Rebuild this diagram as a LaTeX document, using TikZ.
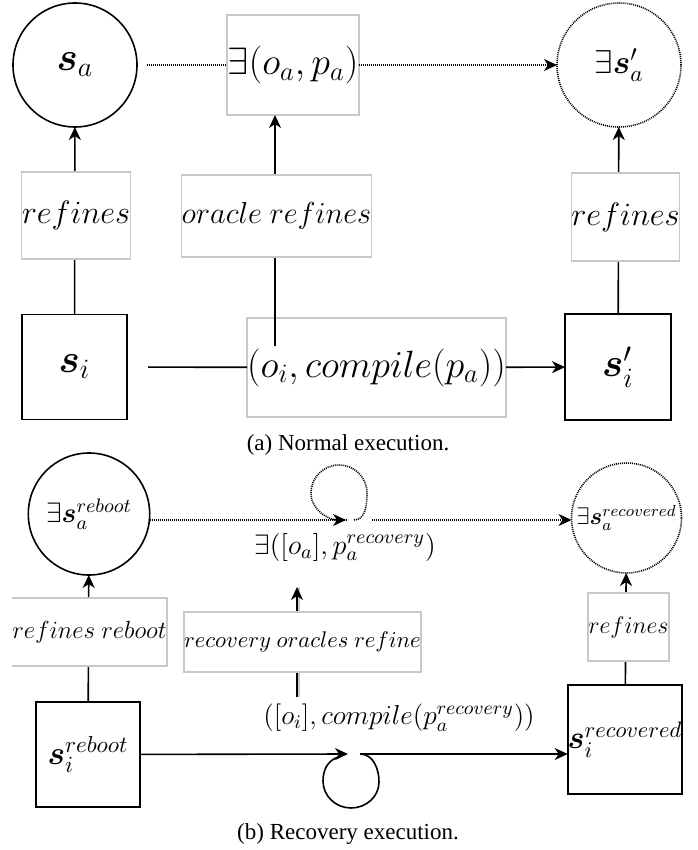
\documentclass[tikz,border=0pt]{standalone}
\usepackage{fix-cm}
\usepackage{amsmath,amssymb}
\usepackage{fontspec}
\setmainfont{Liberation Serif}
\usetikzlibrary{shapes.geometric}
\usetikzlibrary{arrows.meta}
\usetikzlibrary{calc}
\definecolor{lightframe}{RGB}{200,200,200}
\newcommand{\fsz}[1]{\fontsize{#1}{#1}\selectfont}

\begin{document}
\begin{tikzpicture}[x=0.5pt, y=-0.5pt,
  >={Stealth[length=6.5pt,width=6pt,inset=2pt]},
  every node/.style={inner sep=0pt, outer sep=0pt},
  statecirc/.style={circle, draw, line width=0.8pt},
  statebox/.style={rectangle, draw, line width=0.9pt},
  lblbox/.style={rectangle, draw=lightframe, line width=0.6pt, fill=white},
  wire/.style={line width=0.8pt},
  dots/.style={line width=0.8pt, dash pattern=on 0.5pt off 0.5pt}]
\useasboundingbox (0,0) rectangle (697,850);
% (a) normal execution
\node[statecirc, minimum size=62pt, font=\fsz{20}] (sa) at (75,65) {$\boldsymbol{s}_a$};
\node[lblbox, minimum width=66pt, minimum height=50pt, font=\fsz{19}] (exOp) at (293,65) {$\exists(o_a, p_a)$};
\node[statecirc, dots, minimum size=62pt, font=\fsz{16.5}] (exSa) at (619,65) {$\exists\boldsymbol{s}'_a$};
\node[statebox, minimum size=52.5pt, font=\fsz{20}] (si) at (74.5,367) {$\boldsymbol{s}_i$};
\node[lblbox, minimum width=129.5pt, minimum height=49.5pt, font=\fsz{19}] (cmp) at (376.5,367.5) {$(o_i, compile(p_a))$};
\node[statebox, minimum size=53pt, font=\fsz{20}] (sip) at (618,367) {$\boldsymbol{s}'_i$};
\coordinate (cmpTop) at (275,346);

\draw[dots, shorten <=5pt] (sa) -- (exOp);
\draw[dots,->] (exOp) -- (exSa);
\draw[wire,->] (si) -- (sa);
\draw[wire,->] (cmpTop) -- (cmpTop |- exOp.south);
\draw[wire,->] (sip) -- (exSa);
\draw[wire, shorten <=10.5pt] (si) -- (cmp);
\draw[wire,->] (cmp) -- (sip);

\node[lblbox, minimum width=54pt, minimum height=43.5pt, font=\fsz{16.2}] (refL) at (76,215.5) {$refines$};
\node[lblbox, minimum width=93.5pt, minimum height=41pt, font=\fsz{15.2}] (orc) at (276.5,216) {$oracle\ refines$};
\node[lblbox, minimum width=53.5pt, minimum height=44pt, font=\fsz{16.2}] (refR) at (625.5,217) {$refines$};
\node[font=\fsz{11.5}] (capA) at (348,445) {(a) Normal execution.};

% (b) recovery execution
\node[ellipse, draw, line width=0.8pt, minimum width=54pt, minimum height=61pt, font=\fsz{14}] (saR) at (89,514) {$\exists\boldsymbol{s}_a^{reboot}$};
\coordinate (loopA) at (346,520);
\node[font=\fsz{14}] (exRec) at (345,547) {$\exists([o_a], p_a^{recovery})$};
\node[statecirc, dots, minimum size=55pt, font=\fsz{12}] (saRec) at (626.5,518) {$\exists\boldsymbol{s}_a^{recovered}$};
\node[statebox, minimum width=52pt, minimum height=52.5pt, font=\fsz{16.5}] (siR) at (88,754.5) {$\boldsymbol{s}_i^{reboot}$};
\coordinate (loopB) at (348,754);
\node[font=\fsz{13.7}] (cmpRec) at (399,718) {$([o_i], compile(p_a^{recovery}))$};
\node[statebox, minimum width=55pt, minimum height=54.5pt, font=\fsz{16}] (siRec) at (625,739.5) {$\boldsymbol{s}_i^{recovered}$};
\coordinate (recBot) at (297,697);
\coordinate (recTop) at (297,587);

\draw[dots] (saR.east |- loopA) -- (loopA);
\draw[dots,->] ($(loopA)+(8,0)$) to[out=0,in=-90] ++(13,-27) to[out=90,in=0] ++(-28,-28)
  to[out=180,in=90] ++(-28,28) to[out=-90,in=180] (loopA);
\draw[dots,->, shorten <=13pt] (loopA) -- (loopA -| saRec.west);
\draw[wire,->] (siR) -- (loopB);
\draw[wire] ($(loopB)+(12,0)$) to[out=0,in=90] ++(19,28) to[out=-90,in=0] ++(-28,26)
  to[out=180,in=-90] ++(-28,-27) to[out=90,in=200] ++(15,-24);
\draw[wire,->] ($(loopB)+(12,0)$) -- (loopB -| siRec.west);
\draw[wire,->] (siR) -- (saR);
\draw[wire,->] (siRec) -- (saRec);
\draw[lightframe, line width=0.6pt] ([xshift=1pt]recBot) -- ([xshift=1pt]recTop);
\draw[wire,->] (recBot) -- (recTop);

\node[fill=white, minimum width=77.5pt, minimum height=34pt, font=\fsz{12.4}] (refReb) at (89.5,632) {$refines\ reboot$};
\draw[lightframe, line width=0.6pt] (refReb.north west) -- (refReb.north east) -- (refReb.south east) -- (refReb.south west);
\node[lblbox, minimum width=116.5pt, minimum height=30pt, font=\fsz{11.3}] (recOrc) at (302.5,642) {$recovery\ oracles\ refine$};
\node[lblbox, minimum width=40.5pt, minimum height=34pt, font=\fsz{12}] (refRec) at (628.5,627) {$refines$};
\node[font=\fsz{11.5}] (capB) at (348,834) {(b) Recovery execution.};
\end{tikzpicture}
\end{document}
